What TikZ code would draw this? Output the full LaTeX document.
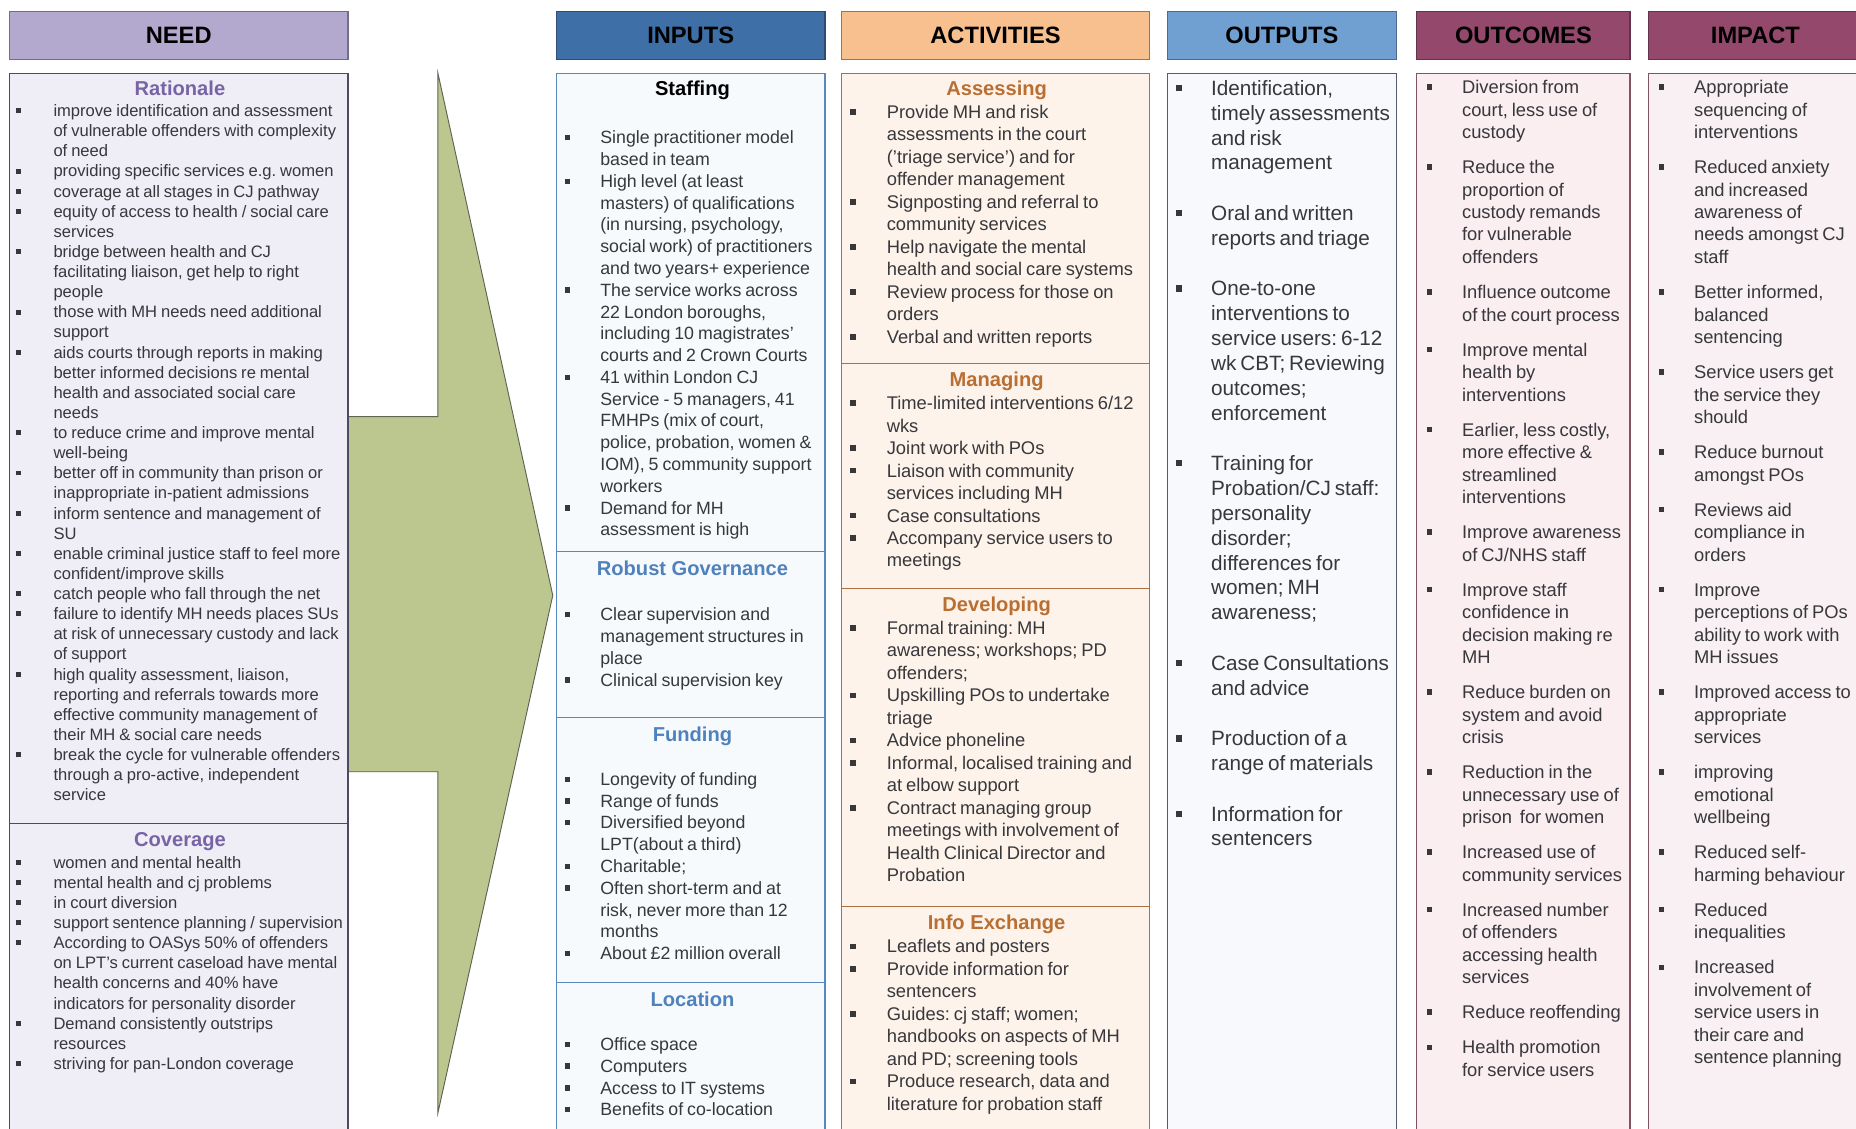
\documentclass[tikz,border=0pt]{standalone}
\usepackage{fontspec}
\setmainfont{Liberation Sans}
\frenchspacing

\definecolor{txt}{RGB}{55,55,60}
\definecolor{needhd}{RGB}{179,168,205}
\definecolor{needhdln}{RGB}{115,110,135}
\definecolor{needbg}{RGB}{239,237,245}
\definecolor{needln}{RGB}{75,75,100}
\definecolor{needttl}{RGB}{120,100,165}
\definecolor{arrowfill}{RGB}{188,199,143}
\definecolor{arrowln}{RGB}{95,100,85}
\definecolor{inhd}{RGB}{62,111,166}
\definecolor{inhdln}{RGB}{45,75,115}
\definecolor{inbg}{RGB}{247,250,253}
\definecolor{inln}{RGB}{90,135,190}
\definecolor{inttl}{RGB}{79,129,189}
\definecolor{acthd}{RGB}{248,192,143}
\definecolor{acthdln}{RGB}{155,115,85}
\definecolor{actbg}{RGB}{253,243,234}
\definecolor{actln}{RGB}{170,112,65}
\definecolor{actttl}{RGB}{185,110,50}
\definecolor{outhd}{RGB}{112,160,210}
\definecolor{outhdln}{RGB}{75,105,145}
\definecolor{outbg}{RGB}{248,249,252}
\definecolor{outln}{RGB}{90,90,110}
\definecolor{ochd}{RGB}{147,72,108}
\definecolor{ochdln}{RGB}{100,50,75}
\definecolor{ocbg}{RGB}{250,238,241}
\definecolor{ocln}{RGB}{125,85,100}
\definecolor{impbg}{RGB}{248,240,242}

\newlength{\bhang}
\newlength{\bskip}
\newcommand{\bmark}{\rule[0.2em]{0.3em}{0.3em}}
\newcommand{\bitem}[1]{\hangindent=\bhang\hangafter=1\makebox[\bhang][l]{\bmark}#1\par\vspace{\bskip}}
\newcommand{\colfont}[4]{\fontsize{#1}{#2}\selectfont\frenchspacing\setlength{\bhang}{#3pt}\setlength{\bskip}{#4pt}}

\begin{document}
\begin{tikzpicture}[x=1pt,y=-1pt,
    hd/.style={minimum height=40pt,inner sep=0pt,line width=1pt,font=\bfseries\fontsize{20}{24}\selectfont,text=black},
    ttl/.style={anchor=base,inner sep=0pt,font=\bfseries\fontsize{17}{20}\selectfont},
    lst/.style={anchor=base west,inner sep=0pt,text width=330pt,align=left,text=txt},
    needfmt/.style={lst,execute at begin node={\colfont{14}{17}{32}{0}}},
    infmt/.style={lst,execute at begin node={\colfont{15}{18.4}{30}{0}}},
    actfmt/.style={lst,execute at begin node={\colfont{15.5}{19}{31}{0}}},
    outfmt/.style={lst,execute at begin node={\colfont{17.5}{21}{30}{21.7}}},
    ocfmt/.style={lst,execute at begin node={\colfont{15.5}{19}{30}{10.6}}}]
\useasboundingbox (0,0) rectangle (1568,953);
\clip (0,0) rectangle (1568,953);
\fill[white] (0,0) rectangle (1568,953);

    %Flecha
    \draw[fill=arrowfill,draw=arrowln,line width=0.8pt] (294,352) -- (370,352) -- (370,62) -- (467,503)
        -- (370,940) -- (370,652) -- (294,652);

    %Encabezados
    \node[hd,minimum width=286pt,fill=needhd,draw=needhdln] (need) at (151,30) {NEED};
    \node[hd,minimum width=227pt,fill=inhd,draw=inhdln] (inputs) at (583.5,30) {INPUTS};
    \node[hd,minimum width=260pt,fill=acthd,draw=acthdln] (activities) at (841,30) {ACTIVITIES};
    \node[hd,minimum width=194pt,fill=outhd,draw=outhdln] (outputs) at (1083,30) {OUTPUTS};
    \node[hd,minimum width=180pt,fill=ochd,draw=ochdln] (outcomes) at (1287,30) {OUTCOMES};
    \node[hd,minimum width=180pt,fill=ochd,draw=ochdln] (impact) at (1483,30) {IMPACT};

    %Columnas
    \draw[fill=needbg,draw=needln,line width=1pt] (8,62) rectangle (294,965);
    \draw[needln,line width=1pt] (8,696) -- (294,696);
    \draw[fill=inbg,draw=inln,line width=1pt] (470,62) rectangle (697,965);
    \foreach \y in {466,606,830}{
        \draw[inln,line width=1pt] (470,\y) -- (697,\y);
    }
    \draw[fill=actbg,draw=actln,line width=1pt] (711,62) rectangle (971,965);
    \foreach \y in {307,497,766}{
        \draw[actln,line width=1pt] (711,\y) -- (971,\y);
    }
    \draw[fill=outbg,draw=outln,line width=1pt] (986,62) rectangle (1180,965);
    \draw[fill=ocbg,draw=ocln,line width=1pt] (1197,62) rectangle (1377,965);
    \draw[fill=impbg,draw=ocln,line width=1pt] (1393,62) rectangle (1573,965);

    %Need
    \node[ttl,text=needttl] (rationale) at (152,80.5) {Rationale};
    \node[needfmt] (ratlist) at (13,98.5) {%
\bitem{improve identification and assessment\newline of vulnerable offenders with complexity\newline of need}
\bitem{providing specific services e.g. women}
\bitem{coverage at all stages in CJ pathway}
\bitem{equity of access to health / social care\newline services}
\bitem{bridge between health and CJ\newline facilitating liaison, get help to right\newline people}
\bitem{those with MH needs need additional\newline support}
\bitem{aids courts through reports in making\newline better informed decisions re mental\newline health and associated social care\newline needs}
\bitem{to reduce crime and improve mental\newline well-being}
\bitem{better off in community than prison or\newline inappropriate in-patient admissions}
\bitem{inform sentence and management of\newline SU}
\bitem{enable criminal justice staff to feel more\newline confident/improve skills}
\bitem{catch people who fall through the net}
\bitem{failure to identify MH needs places SUs\newline at risk of unnecessary custody and lack\newline of support}
\bitem{high quality assessment, liaison,\newline reporting and referrals towards more\newline effective community management of\newline their MH \& social care needs}
\bitem{break the cycle for vulnerable offenders\newline through a pro-active, independent\newline service}};
    \node[ttl,text=needttl] (coverage) at (152,715.5) {Coverage};
    \node[needfmt] (covlist) at (13,733.5) {%
\bitem{women and mental health}
\bitem{mental health and cj problems}
\bitem{in court diversion}
\bitem{support sentence planning / supervision}
\bitem{According to OASys 50\% of offenders\newline on LPT's current caseload have mental\newline health concerns and 40\% have\newline indicators for personality disorder}
\bitem{Demand consistently outstrips\newline resources}
\bitem{striving for pan-London coverage}};

    %Inputs
    \node[ttl,text=black] (staffing) at (585,80.5) {Staffing};
    \node[infmt] (stafflist) at (477,121.5) {%
\bitem{Single practitioner model\newline based in team}
\bitem{High level (at least\newline masters) of qualifications\newline (in nursing, psychology,\newline social work) of practitioners\newline and two years+ experience}
\bitem{The service works across\newline 22 London boroughs,\newline including 10 magistrates'\newline courts and 2 Crown Courts}
\bitem{41 within London CJ\newline Service - 5 managers, 41\newline FMHPs (mix of court,\newline police, probation, women \&\newline IOM), 5 community support\newline workers}
\bitem{Demand for MH\newline assessment is high}};
    \node[ttl,text=inttl] (governance) at (585,486.5) {Robust Governance};
    \node[infmt] (govlist) at (477,524.5) {%
\bitem{Clear supervision and\newline management structures in\newline place}
\bitem{Clinical supervision key}};
    \node[ttl,text=inttl] (funding) at (585,626.5) {Funding};
    \node[infmt] (fundlist) at (477,663.5) {%
\bitem{Longevity of funding}
\bitem{Range of funds}
\bitem{Diversified beyond\newline LPT(about a third)}
\bitem{Charitable;}
\bitem{Often short-term and at\newline risk, never more than 12\newline months}
\bitem{About £2 million overall}};
    \node[ttl,text=inttl] (location) at (585,850.5) {Location};
    \node[infmt] (loclist) at (477,887.5) {%
\bitem{Office space}
\bitem{Computers}
\bitem{Access to IT systems}
\bitem{Benefits of co-location}};

    %Activities
    \node[ttl,text=actttl] (assessing) at (842,80.5) {Assessing};
    \node[actfmt] (asslist) at (718,100) {%
\bitem{Provide MH and risk\newline assessments in the court\newline ('triage service') and for\newline offender management}
\bitem{Signposting and referral to\newline community services}
\bitem{Help navigate the mental\newline health and social care systems}
\bitem{Review process for those on\newline orders}
\bitem{Verbal and written reports}};
    \node[ttl,text=actttl] (managing) at (842,326.5) {Managing};
    \node[actfmt] (manlist) at (718,346) {%
\bitem{Time-limited interventions 6/12\newline wks}
\bitem{Joint work with POs}
\bitem{Liaison with community\newline services including MH}
\bitem{Case consultations}
\bitem{Accompany service users to\newline meetings}};
    \node[ttl,text=actttl] (developing) at (842,516.5) {Developing};
    \node[actfmt] (devlist) at (718,536) {%
\bitem{Formal training: MH\newline awareness; workshops; PD\newline offenders;}
\bitem{Upskilling POs to undertake\newline triage}
\bitem{Advice phoneline}
\bitem{Informal, localised training and\newline at elbow support}
\bitem{Contract managing group\newline meetings with involvement of\newline Health Clinical Director and\newline Probation}};
    \node[ttl,text=actttl] (infoex) at (842,785.5) {Info Exchange};
    \node[actfmt] (infolist) at (718,805) {%
\bitem{Leaflets and posters}
\bitem{Provide information for\newline sentencers}
\bitem{Guides: cj staff; women;\newline handbooks on aspects of MH\newline and PD; screening tools}
\bitem{Produce research, data and\newline literature for probation staff}};

    %Outputs
    \node[outfmt] (outlist) at (993,80.5) {%
\bitem{Identification,\newline timely assessments\newline and risk\newline management}
\bitem{Oral and written\newline reports and triage}
\bitem{One-to-one\newline interventions to\newline service users: 6-12\newline wk CBT; Reviewing\newline outcomes;\newline enforcement}
\bitem{Training for\newline Probation/CJ staff:\newline personality\newline disorder;\newline differences for\newline women; MH\newline awareness;}
\bitem{Case Consultations\newline and advice}
\bitem{Production of a\newline range of materials}
\bitem{Information for\newline sentencers}};

    %Outcomes
    \node[ocfmt] (oclist) at (1205,79) {%
\bitem{Diversion from\newline court, less use of\newline custody}
\bitem{Reduce the\newline proportion of\newline custody remands\newline for vulnerable\newline offenders}
\bitem{Influence outcome\newline of the court process}
\bitem{Improve mental\newline health by\newline interventions}
\bitem{Earlier, less costly,\newline more effective \&\newline streamlined\newline interventions}
\bitem{Improve awareness\newline of CJ/NHS staff}
\bitem{Improve staff\newline confidence in\newline decision making re\newline MH}
\bitem{Reduce burden on\newline system and avoid\newline crisis}
\bitem{Reduction in the\newline unnecessary use of\newline prison\ \ for women}
\bitem{Increased use of\newline community services}
\bitem{Increased number\newline of offenders\newline accessing health\newline services}
\bitem{Reduce reoffending}
\bitem{Health promotion\newline for service users}};

    %Impact
    \node[ocfmt] (implist) at (1401,79) {%
\bitem{Appropriate\newline sequencing of\newline interventions}
\bitem{Reduced anxiety\newline and increased\newline awareness of\newline needs amongst CJ\newline staff}
\bitem{Better informed,\newline balanced\newline sentencing}
\bitem{Service users get\newline the service they\newline should}
\bitem{Reduce burnout\newline amongst POs}
\bitem{Reviews aid\newline compliance in\newline orders}
\bitem{Improve\newline perceptions of POs\newline ability to work with\newline MH issues}
\bitem{Improved access to\newline appropriate\newline services}
\bitem{improving\newline emotional\newline wellbeing}
\bitem{Reduced self-\newline harming behaviour}
\bitem{Reduced\newline inequalities}
\bitem{Increased\newline involvement of\newline service users in\newline their care and\newline sentence planning}};
\end{tikzpicture}
\end{document}
